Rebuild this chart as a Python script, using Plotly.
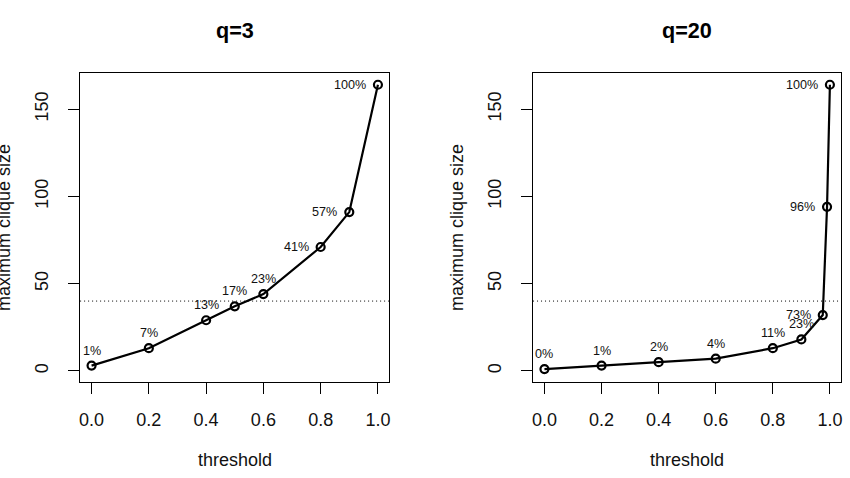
import plotly.graph_objects as go

# ---- data ----
thr_q3 = [0.0, 0.2, 0.4, 0.5, 0.6, 0.8, 0.9, 1.0]
size_q3 = [3, 13, 29, 37, 44, 71, 91, 164]
pct_q3 = ["1%", "7%", "13%", "17%", "23%", "41%", "57%", "100%"]

thr_q20 = [0.0, 0.2, 0.4, 0.6, 0.8, 0.9, 0.975, 0.99, 1.0]
size_q20 = [1, 3, 5, 7, 13, 18, 32, 94, 164]
pct_q20 = ["0%", "1%", "2%", "4%", "11%", "23%", "73%", "96%", "100%"]

panel_titles = ["q=3", "q=20"]
x_title = "threshold"
y_title = "maximum clique size"
x_tickvals = [0.0, 0.2, 0.4, 0.6, 0.8, 1.0]
x_ticktext = ["0.0", "0.2", "0.4", "0.6", "0.8", "1.0"]
y_tickvals = [0, 50, 100, 150]
y_ticktext = ["0", "50", "100", "150"]
ref_level = 40

W, H = 850, 478
FONT = "Liberation Sans, Arial, sans-serif"

# plot-region pixel boxes (left, right, top, bottom)
boxes = [(79.3, 389.3, 73.3, 382.3), (533.3, 842.3, 73.3, 382.3)]

fig = go.Figure()
series = [(thr_q3, size_q3, pct_q3), (thr_q20, size_q20, pct_q20)]

for i, (xs, ys, labs) in enumerate(series):
    xa = "x" if i == 0 else "x2"
    ya = "y" if i == 0 else "y2"
    fig.add_trace(go.Scatter(
        x=xs, y=ys, mode="lines+markers", xaxis=xa, yaxis=ya,
        line=dict(color="black", width=2.2),
        marker=dict(symbol="circle-open", size=8, color="black",
                    line=dict(color="black", width=2.2)),
        showlegend=False, hoverinfo="skip"))
    # percent labels: last three to the left, others above
    n = len(xs)
    for j, (xv, yv, t) in enumerate(zip(xs, ys, labs)):
        left = j >= n - 3
        fig.add_annotation(
            x=xv, y=yv, xref=xa, yref=ya, text=t, showarrow=False,
            font=dict(family=FONT, size=12.6, color="#111"),
            xanchor="right" if left else "center", yanchor="middle",
            xshift=-10 if left else 0, yshift=0 if left else 15)
    # reference dotted line
    fig.add_shape(type="line", xref=f"{xa} domain", yref=ya,
                  x0=0, x1=1, y0=ref_level, y1=ref_level,
                  line=dict(color="black", width=1, dash="1px,3px"))

axis_common = dict(showline=True, mirror=True, linecolor="black", linewidth=1,
                   ticks="outside", ticklen=11, tickwidth=1, tickcolor="black",
                   showgrid=False, zeroline=False,
                   tickfont=dict(family=FONT, size=18, color="#111"))

for i, (l, r, t, b) in enumerate(boxes):
    sfx = "" if i == 0 else "2"
    fig.update_layout(**{
        f"xaxis{sfx}": dict(domain=[l / W, r / W], range=[-0.04, 1.04],
                            tickvals=x_tickvals, ticktext=x_ticktext,
                            anchor=f"y{sfx}", ticklabelstandoff=10, **axis_common),
        f"yaxis{sfx}": dict(domain=[1 - b / H, 1 - t / H], range=[-6.56, 170.56],
                            tickvals=y_tickvals, ticktext=y_ticktext,
                            tickangle=-90, anchor=f"x{sfx}", ticklabelstandoff=13,
                            **axis_common),
    })
    cx = (l + r) / 2 / W
    fig.add_annotation(x=cx, y=1 - 30 / H, xref="paper", yref="paper",
                       text=panel_titles[i], showarrow=False,
                       font=dict(family=FONT, size=21.6, color="black", weight="bold"),
                       xanchor="center", yanchor="middle")
    fig.add_annotation(x=cx, y=1 - 460 / H, xref="paper", yref="paper",
                       text=x_title, showarrow=False,
                       font=dict(family=FONT, size=18, color="#111"),
                       xanchor="center", yanchor="middle")
    fig.add_annotation(x=(l - 76) / W, y=1 - (t + b) / 2 / H, xref="paper", yref="paper",
                       text=y_title, showarrow=False, textangle=-90,
                       font=dict(family=FONT, size=18, color="#111"),
                       xanchor="center", yanchor="middle")

fig.update_layout(width=W, height=H, margin=dict(l=0, r=0, t=0, b=0),
                  paper_bgcolor="white", plot_bgcolor="white")

fig.write_html("out.html")
